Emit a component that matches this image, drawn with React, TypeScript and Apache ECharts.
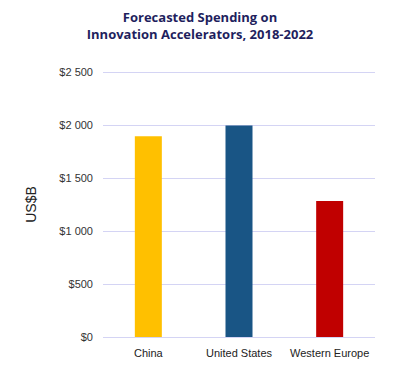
import React, { useEffect, useRef } from "react";
import * as echarts from "echarts";

const categories = ["China", "United States", "Western Europe"];
const values = [1895, 1995, 1282];
const barColors = ["#FFC000", "#195585", "#C00000"];
const yTicks = [0, 500, 1000, 1500, 2000, 2500];
const titleLines = ["Forecasted Spending on", "Innovation Accelerators, 2018-2022"];

function fmt(v: number): string {
  const s = String(v);
  if (s.length > 3) return "$" + s.slice(0, s.length - 3) + " " + s.slice(-3);
  return "$" + s;
}

export default function App() {
  const ref = useRef<HTMLDivElement>(null);
  useEffect(() => {
    const chart = echarts.init(ref.current!, null, { renderer: "svg" });
    const tStyle = {
      fontFamily: "Open Sans",
      fontWeight: "bold",
      fontSize: 13,
      lineHeight: 15,
      color: "#1F1F5E",
    };
    chart.setOption({
      animation: false,
      title: {
        text: titleLines[0],
        subtext: titleLines[1],
        left: "center",
        top: 9,
        padding: 0,
        itemGap: 2,
        textStyle: tStyle,
        subtextStyle: tStyle,
      },
      grid: { left: 103, right: 25, top: 72, bottom: 37 },
      xAxis: {
        type: "category",
        data: categories,
        axisLine: { show: false },
        axisTick: { show: false },
        axisLabel: {
          interval: 0,
          fontFamily: "Liberation Sans",
          fontSize: 11,
          color: "#222",
          margin: 10,
        },
      },
      yAxis: {
        type: "value",
        min: yTicks[0],
        max: yTicks[yTicks.length - 1],
        interval: 500,
        name: "US$B",
        nameLocation: "middle",
        nameGap: 65,
        nameTextStyle: {
          fontFamily: "Liberation Sans",
          fontSize: 14,
          color: "#222",
        },
        axisLine: { show: false },
        axisTick: { show: false },
        splitLine: { lineStyle: { color: "#D4D4F4", width: 1 } },
        axisLabel: {
          fontFamily: "Liberation Sans",
          fontSize: 11,
          color: "#333",
          margin: 10,
          formatter: (v: number) => fmt(v),
        },
      },
      series: [
        {
          type: "bar",
          barWidth: 27,
          data: values.map((v, i) => ({ value: v, itemStyle: { color: barColors[i] } })),
        },
      ],
    });
    return () => chart.dispose();
  }, []);
  return <div ref={ref} style={{ width: 400, height: 374, position: "absolute", left: 0, top: 0 }} />;
}
